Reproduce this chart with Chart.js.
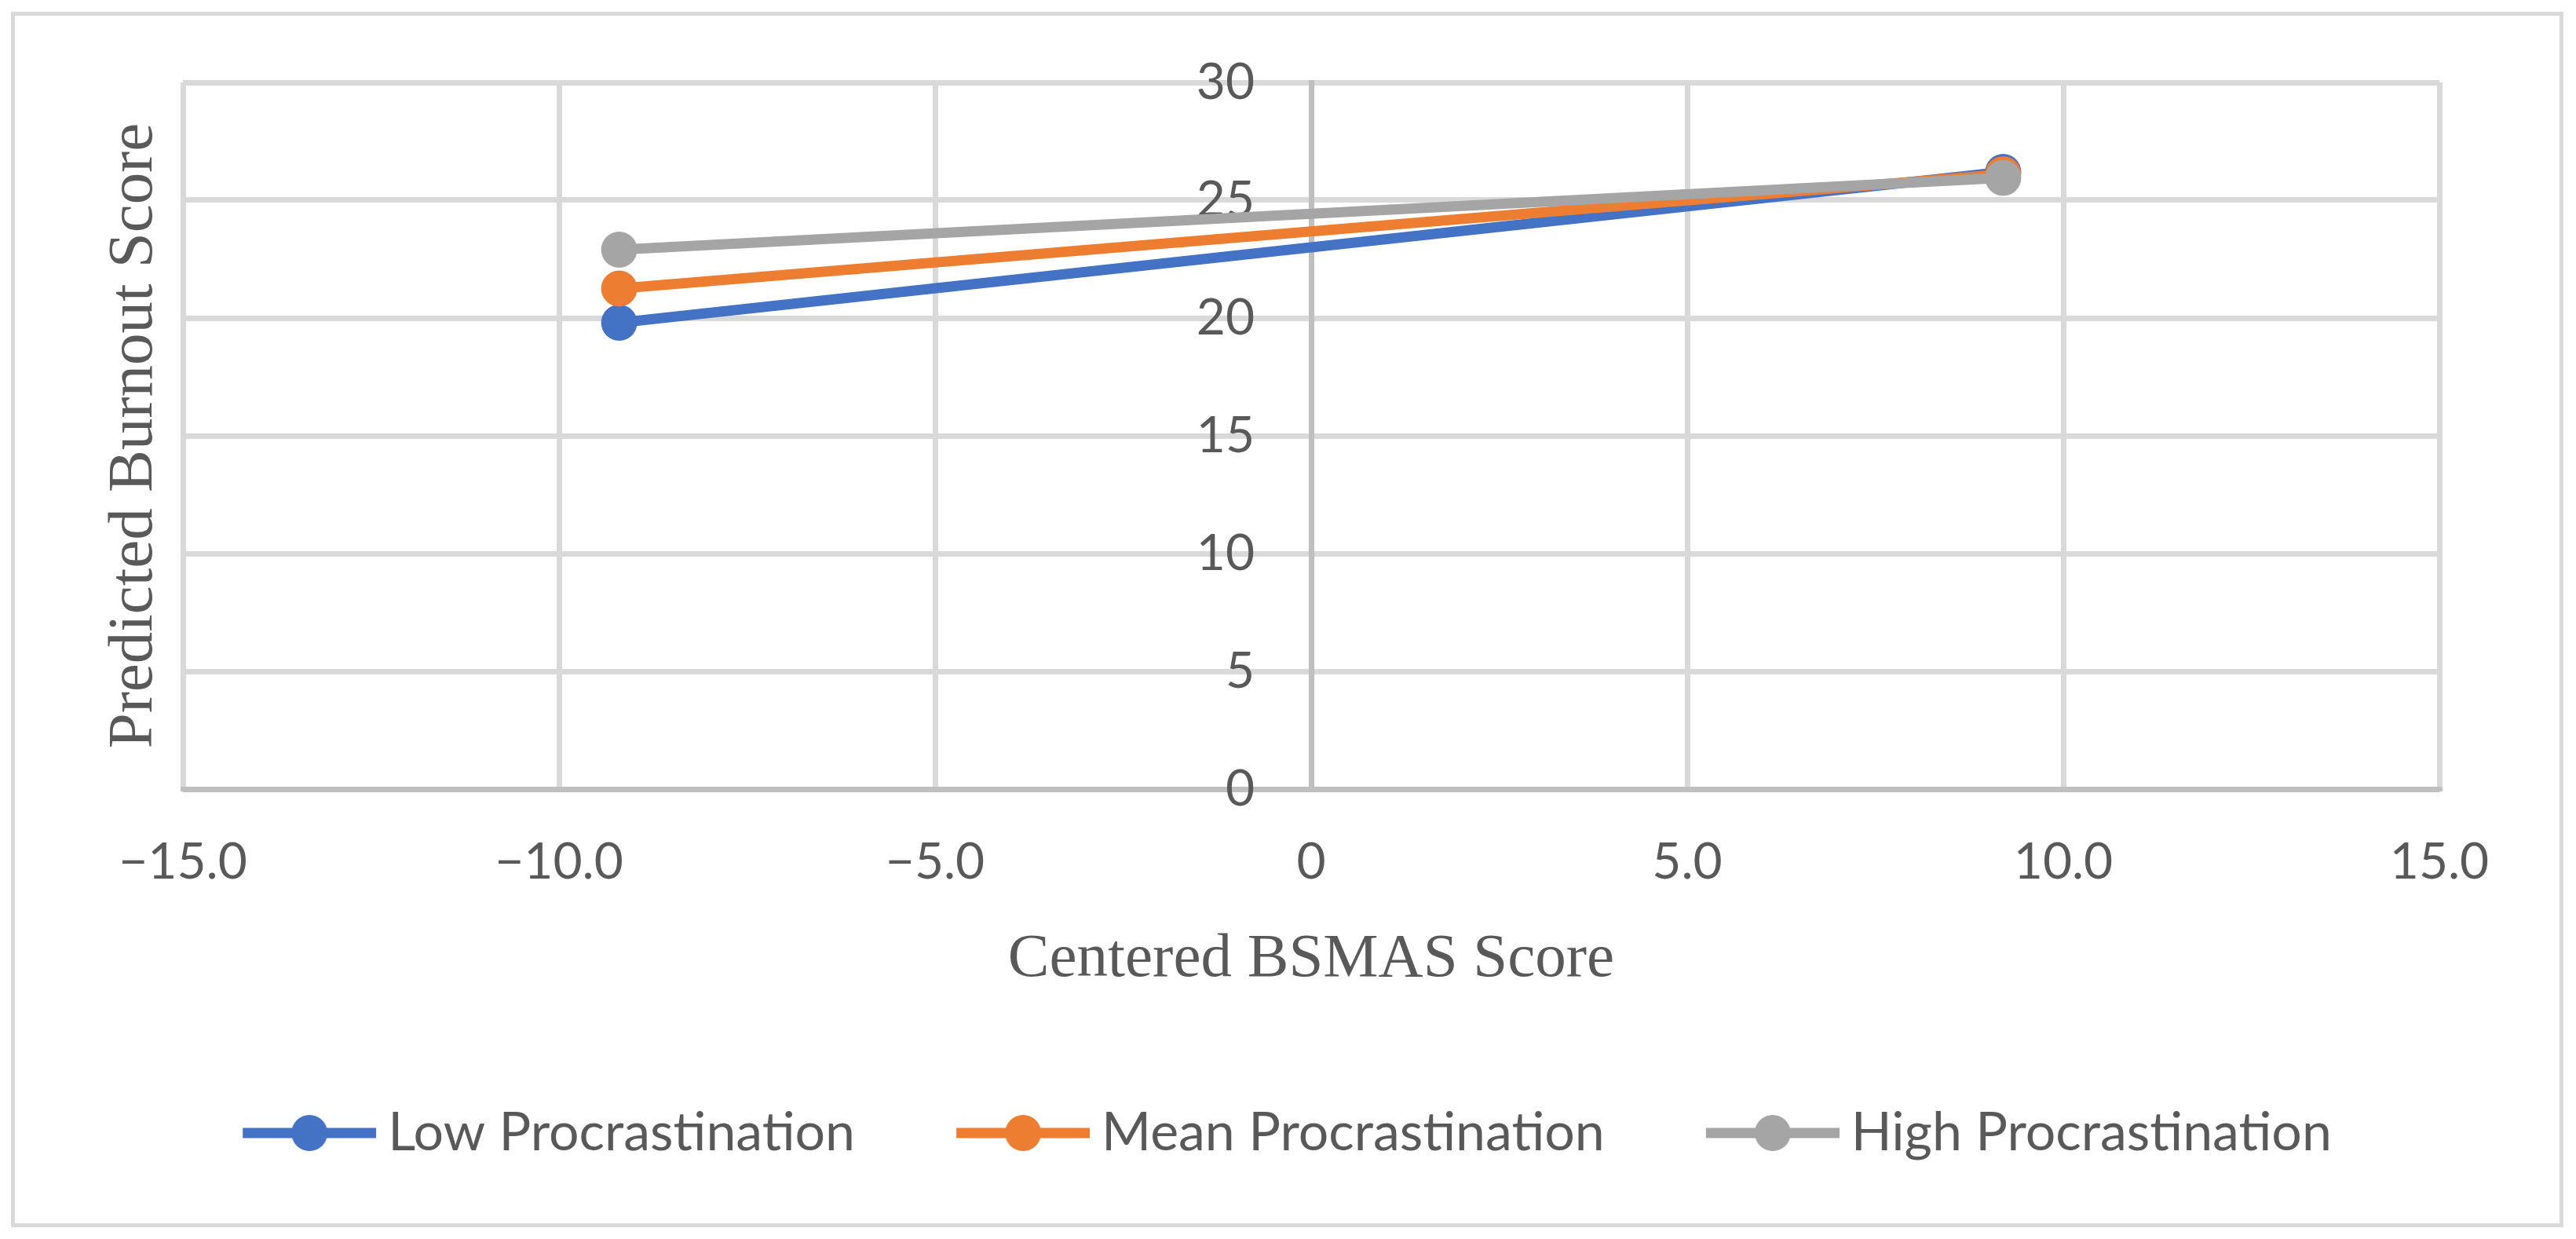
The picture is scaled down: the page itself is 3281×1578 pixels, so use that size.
<!DOCTYPE html>
<html>
<head>
<meta charset="utf-8">
<script src="https://cdn.jsdelivr.net/npm/chart.js@4/dist/chart.umd.min.js"></script>
<style>
  html, body { margin: 0; padding: 0; background: #fff; }
  #wrap { position: relative; width: 3281px; height: 1578px; }
  #frame { position: absolute; left: 14px; top: 15px; width: 3241px; height: 1538px; border: 5px solid #d9d9d9; }
  #chart { position: absolute; left: 0; top: 0; }
</style>
</head>
<body>
<div id="wrap">
  <div id="frame"></div>
  <canvas id="chart" width="3281" height="1578"></canvas>
</div>
<script>
const bsmasX = [-9.2, 9.2];
const lowProcrastination = [19.8, 26.2];
const meanProcrastination = [21.25, 26.1];
const highProcrastination = [22.9, 25.95];
const seriesNames = ["Low Procrastination", "Mean Procrastination", "High Procrastination"];
const seriesColors = ["#4472C4", "#ED7D31", "#A5A5A5"];
const xTickLabels = ["\u221215.0", "\u221210.0", "\u22125.0", "0", "5.0", "10.0", "15.0"];
const yTickLabels = ["0", "5", "10", "15", "20", "25", "30"];

const textColor = "#595959";
const gridColor = "#d9d9d9";
const axisColor = "#bfbfbf";
const tickFont = { family: "Lato", size: 64 };
const legendFont = { family: "Lato", size: 68 };
const xTitleFont = { family: "Liberation Serif", size: 79, lineHeight: 1.2 };
const yTitleFont = { family: "Liberation Serif", size: 81, lineHeight: 1.2 };

function toPoints(ys) {
  return ys.map((y, i) => ({ x: bsmasX[i], y: y }));
}

// legend marker: line with a dot, like the spreadsheet legend
function makeMarker(color) {
  const c = document.createElement("canvas");
  c.width = 288;
  c.height = 50;
  const g = c.getContext("2d");
  g.strokeStyle = color;
  g.lineWidth = 13;
  g.beginPath();
  g.moveTo(118, 25);
  g.lineTo(288, 25);
  g.stroke();
  g.fillStyle = color;
  g.beginPath();
  g.arc(203, 25, 23, 0, Math.PI * 2);
  g.fill();
  return c;
}

const seriesValues = [lowProcrastination, meanProcrastination, highProcrastination];
const markers = seriesColors.map(makeMarker);

const datasets = seriesValues.map((vals, i) => ({
  label: seriesNames[i],
  data: toPoints(vals),
  borderColor: seriesColors[i],
  backgroundColor: seriesColors[i],
  borderWidth: 13,
  pointRadius: 23,
  pointHoverRadius: 23,
  pointBorderWidth: 0,
  tension: 0,
  order: seriesValues.length - i,
  xAxisID: "x",
  yAxisID: "y"
}));

const gridByValue = (ctx) => (ctx.tick && ctx.tick.value === 0 ? axisColor : gridColor);

new Chart("chart", {
  type: "line",
  data: { datasets: datasets },
  options: {
    responsive: false,
    animation: false,
    devicePixelRatio: 1,
    layout: { padding: { left: 73, right: 174, top: 105, bottom: 91 } },
    plugins: {
      tooltip: { enabled: false },
      legend: {
        position: "bottom",
        labels: {
          usePointStyle: true,
          pointStyleWidth: 250,
          padding: 30,
          color: textColor,
          font: legendFont,
          generateLabels: (chart) => chart.data.datasets.map((ds, i) => ({
            text: ds.label,
            fillStyle: seriesColors[i],
            strokeStyle: seriesColors[i],
            lineWidth: 0,
            pointStyle: markers[i],
            hidden: false,
            datasetIndex: i,
            fontColor: textColor
          }))
        }
      }
    },
    scales: {
      x: {
        type: "linear",
        position: "bottom",
        min: -15,
        max: 15,
        ticks: {
          stepSize: 5,
          padding: 55,
          color: textColor,
          font: tickFont,
          maxRotation: 0,
          callback: (v, i) => xTickLabels[i]
        },
        grid: { color: gridByValue, lineWidth: 7, drawTicks: false },
        border: { color: axisColor, width: 6 },
        title: {
          display: true,
          text: "Centered BSMAS Score",
          color: textColor,
          font: xTitleFont,
          padding: { top: -17.2, bottom: 109.6 }
        }
      },
      y: {
        type: "linear",
        position: "left",
        min: 0,
        max: 30,
        ticks: { stepSize: 5, display: false },
        grid: { color: gridByValue, lineWidth: 7, drawTicks: false },
        border: { display: false },
        title: {
          display: true,
          text: "Predicted Burnout Score",
          color: textColor,
          font: yTitleFont,
          padding: { top: 50.4, bottom: 12.4 }
        }
      },
      // value axis crossing at x = 0 (the middle of the symmetric x range)
      y2: {
        type: "linear",
        axis: "y",
        position: "center",
        min: 0,
        max: 30,
        afterFit: (scale) => { scale.paddingTop = 0; scale.paddingBottom = 0; },
        ticks: {
          stepSize: 5,
          padding: 72,
          color: textColor,
          font: tickFont,
          callback: (v, i) => yTickLabels[i]
        },
        grid: { display: false, drawTicks: false },
        border: { color: axisColor, width: 7 }
      }
    }
  }
});
</script>
</body>
</html>
